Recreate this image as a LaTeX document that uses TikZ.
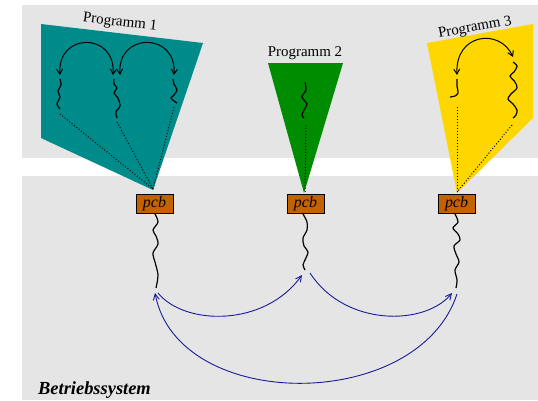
\documentclass[tikz,border=0pt]{standalone}
\usepackage{fontspec}
\setmainfont{Liberation Serif}
\usetikzlibrary{arrows.meta}
\definecolor{bggray}{RGB}{229,229,229}
\definecolor{progteal}{RGB}{0,139,139}
\definecolor{proggreen}{RGB}{0,140,0}
\definecolor{proggold}{RGB}{255,215,0}
\definecolor{pcbfill}{RGB}{195,98,0}
\definecolor{osblue}{RGB}{26,26,150}
\tikzset{
  thread/.style={line width=1.2pt,black},
  dotline/.style={line width=1pt,dotted,black},
  jump/.style={line width=1pt,black,{Straight Barb[length=5pt,width=6pt]}-{Straight Barb[length=5pt,width=6pt]}},
  switch/.style={line width=0.9pt,osblue,-{Straight Barb[length=6pt,width=6pt]}},
  pcbbox/.style={draw=black,line width=0.7pt,fill=pcbfill,minimum width=37bp,minimum height=19bp,inner sep=0pt,font=\fontsize{16}{18}\selectfont\itshape},
  proglabel/.style={font=\fontsize{15}{17}\selectfont,inner sep=0pt}
}
\begin{document}
\begin{tikzpicture}[x=1bp,y=-1bp]
\useasboundingbox (0,0) rectangle (538,400);
% backgrounds
\fill[bggray] (22,5) rectangle (538,158);
\fill[bggray] (22,176) rectangle (538,400);
% program shapes
\fill[progteal] (41,24) -- (203,43) -- (153,190) -- (41,138) -- cycle;
\fill[proggreen] (268,63) -- (343,63) -- (304,193) -- cycle;
\fill[proggold] (427,43) -- (533,24) -- (533,118) -- (457,193) -- cycle;
% labels
\node[proglabel,rotate=-6.7] (l1) at (120,23) {Programm 1};
\node[proglabel] (l2) at (305,53) {Programm 2};
\node[proglabel,rotate=10] (l3) at (475,28) {Programm 3};
% tip coordinates
\coordinate (tip1) at (153,189);
\coordinate (tip2) at (305,192);
\coordinate (tip3) at (457,192);
% Programm 1 threads
\draw[thread] plot[smooth] coordinates {(60,79) (61,85) (58,91) (60,97) (57,104) (60,109)};
\draw[thread] plot[smooth] coordinates {(114,79) (114,84) (117,88) (114,93) (118,98) (120,106) (116,112) (117,118)};
\draw[thread] plot[smooth] coordinates {(173,79) (174,84) (177,90) (174,95) (171,98) (174,101) (177,103)};
\coordinate (a1) at (60,114);
\coordinate (a2) at (117,122);
\coordinate (a3) at (174,107);
\draw[dotline] (a1) -- (tip1);
\draw[dotline] (a2) -- (tip1);
\draw[dotline] (a3) -- (tip1);
\coordinate (j1a) at (60,75);
\coordinate (j1b) at (113,75);
\coordinate (j2a) at (120,75);
\coordinate (j2b) at (174,75);
\draw[jump] (j1a) .. controls (57,32) and (116,32) .. (j1b);
\draw[jump] (j2a) .. controls (117,32) and (177,32) .. (j2b);
% Programm 2
\draw[thread] plot[smooth] coordinates {(305,82) (306,90) (302,97) (307,104) (304,110) (302,115) (304,118)};
\coordinate (b1) at (306,125);
\draw[dotline] (b1) -- (tip2);
% Programm 3
\draw[thread] plot[smooth] coordinates {(457,79) (457,86) (458,93) (455,96) (450,97)};
\draw[thread] plot[smooth] coordinates {(513,62) (517,66) (514,72) (510,76) (515,82) (517,88) (511,94) (508,99) (513,104) (517,110) (516,115) (513,118)};
\coordinate (c1) at (457,107);
\coordinate (c2) at (512,125);
\draw[dotline] (c1) -- (tip3);
\draw[dotline] (c2) -- (tip3);
\coordinate (j3a) at (457,75);
\coordinate (j3b) at (513,57);
\draw[jump] (j3a) .. controls (455,33) and (500,28) .. (j3b);
% pcb boxes
\node[pcbbox] (p1) at (154.5,203.5) {pcb};
\node[pcbbox] (p2) at (305.5,203.5) {pcb};
\node[pcbbox] (p3) at (456.5,203.5) {pcb};
% OS threads
\draw[thread] plot[smooth] coordinates {(155,214) (158,222) (153,230) (156,236) (158,244) (153,253) (155,262) (158,275) (156,288)};
\draw[thread] plot[smooth] coordinates {(303,214) (307,222) (307,230) (303,238) (304,246) (308,252) (305,260) (303,265) (305,270)};
\draw[thread] plot[smooth] coordinates {(455,214) (458,222) (453,228) (458,234) (460,240) (454,246) (456,254) (459,262) (455,270) (457,280) (456,288)};
% switch arcs
\coordinate (s1) at (158,293);
\coordinate (e1) at (302,275);
\coordinate (s2) at (310,273);
\coordinate (e2) at (452,293);
\coordinate (s3) at (457,294);
\coordinate (e3) at (155,293);
\draw[switch] (s1) .. controls (185,326) and (265,327) .. (e1);
\draw[switch] (s2) .. controls (345,327) and (425,326) .. (e2);
\draw[switch] (s3) .. controls (418,413) and (178,413) .. (e3);
% OS label
\node[font=\fontsize{18.5}{20}\selectfont\bfseries\itshape,anchor=west,inner sep=0pt] (os) at (38,390) {Betriebssystem};
\end{tikzpicture}
\end{document}
